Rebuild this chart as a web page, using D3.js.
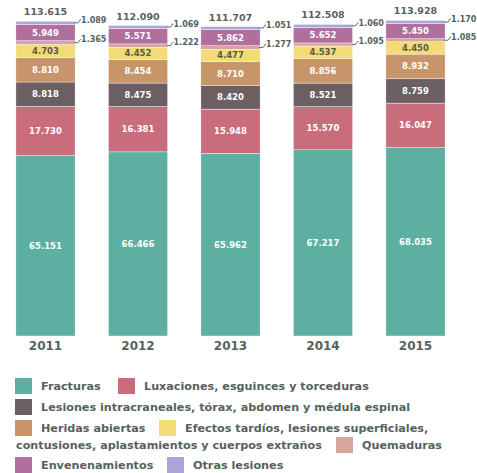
<!DOCTYPE html>
<html>
<head>
<meta charset="utf-8">
<script src="https://cdn.jsdelivr.net/npm/d3@7"></script>
<style>
  html, body { margin: 0; padding: 0; background: #fff; }
  svg { display: block; }
</style>
</head>
<body>
<script>
// categories and series
const years = ["2011", "2012", "2013", "2014", "2015"];
const fracturas = [65151, 66466, 65962, 67217, 68035];
const luxaciones = [17730, 16381, 15948, 15570, 16047];
const intracraneales = [8818, 8475, 8420, 8521, 8759];
const heridas = [8810, 8454, 8710, 8856, 8932];
const efectos = [4703, 4452, 4477, 4537, 4450];
const quemaduras = [1365, 1222, 1277, 1095, 1085];
const envenenamientos = [5949, 5571, 5862, 5652, 5450];
const otras = [1089, 1069, 1051, 1060, 1170];

const seriesNames = [
  "Fracturas",
  "Luxaciones, esguinces y torceduras",
  "Lesiones intracraneales, tórax, abdomen y médula espinal",
  "Heridas abiertas",
  "Efectos tardíos, lesiones superficiales, contusiones, aplastamientos y cuerpos extraños",
  "Quemaduras",
  "Envenenamientos",
  "Otras lesiones",
];
const seriesValues = [fracturas, luxaciones, intracraneales, heridas, efectos, quemaduras, envenenamientos, otras];
const colors = ["#5db0a1", "#c96c7b", "#6c5f64", "#c8956a", "#f3db78", "#d6a59d", "#b06f9d", "#aaa6d8"];

const width = 477, height = 473;
const baseY = 336;
const textColor = "#55625e";
const leaderColor = "#4f7a70";

// table built from the arrays
const table = years.map((yr, i) => {
  const row = { year: yr };
  seriesNames.forEach((name, k) => (row[name] = seriesValues[k][i]));
  return row;
});

const es = d3.formatLocale({ decimal: ",", thousands: ".", grouping: [3], currency: ["", "€"] });
const fmt = es.format(",d");

const svg = d3.select("body").append("svg")
  .attr("width", width)
  .attr("height", height)
  .attr("font-family", "'DejaVu Sans', 'Liberation Sans', sans-serif");

const x = d3.scaleBand()
  .domain(years)
  .range([-0.75, 461.75])
  .paddingInner(0.36)
  .paddingOuter(0.18);

const y = d3.scaleLinear()
  .domain([0, 121300])
  .range([baseY, 0]);

const color = d3.scaleOrdinal().domain(seriesNames).range(colors);

const stacked = d3.stack().keys(seriesNames)(table);

// bars
const layer = svg.append("g")
  .selectAll("g")
  .data(stacked)
  .join("g")
  .attr("fill", (d) => color(d.key));

layer.selectAll("rect")
  .data((d) => d)
  .join("rect")
  .attr("x", (d) => x(d.data.year))
  .attr("width", x.bandwidth())
  .attr("y", (d) => y(d[1]))
  .attr("height", (d) => y(d[0]) - y(d[1]))
  .attr("stroke", "#fff")
  .attr("stroke-width", 0.4);

// value labels inside the larger segments
const small = ["Quemaduras", "Otras lesiones"];
stacked.forEach((s) => {
  if (small.includes(s.key)) return;
  svg.append("g")
    .selectAll("text")
    .data(s)
    .join("text")
    .attr("x", (d) => x(d.data.year) + x.bandwidth() / 2)
    .attr("y", (d) => (y(d[0]) + y(d[1])) / 2)
    .attr("dy", "0.35em")
    .attr("text-anchor", "middle")
    .attr("font-size", 8.5)
    .attr("font-weight", "bold")
    .attr("fill", s.key.startsWith("Efectos") ? "#5a5a4a" : "#fff")
    .text((d) => fmt(d[1] - d[0]));
});

// leader labels for the thin segments
stacked.forEach((s) => {
  if (!small.includes(s.key)) return;
  const g = svg.append("g").selectAll("g").data(s).join("g");
  const x0 = (d) => x(d.data.year) + x.bandwidth();
  const mid = (d) => (y(d[0]) + y(d[1])) / 2;
  g.append("path")
    .attr("fill", "none")
    .attr("stroke", leaderColor)
    .attr("stroke-width", 1)
    .attr("d", (d) => `M${x0(d) - 1},${mid(d)}H${x0(d) + 3}L${x0(d) + 5},${mid(d) - 3}H${x0(d) + 6}`);
  g.append("text")
    .attr("x", (d) => x0(d) + 6)
    .attr("y", (d) => mid(d) - 3)
    .attr("dy", "0.35em")
    .attr("font-size", 8)
    .attr("font-weight", "bold")
    .attr("fill", textColor)
    .text((d) => fmt(d[1] - d[0]));
});

// totals above the bars
const topLayer = stacked[stacked.length - 1];
svg.append("g")
  .selectAll("text")
  .data(topLayer)
  .join("text")
  .attr("x", (d) => x(d.data.year) + x.bandwidth() / 2)
  .attr("y", (d) => y(d[1]) - 6)
  .attr("text-anchor", "middle")
  .attr("font-size", 9.5)
  .attr("font-weight", "bold")
  .attr("fill", textColor)
  .text((d) => fmt(d[1]));

// year labels
svg.append("g")
  .selectAll("text")
  .data(years)
  .join("text")
  .attr("x", (d) => x(d) + x.bandwidth() / 2)
  .attr("y", baseY + 14)
  .attr("text-anchor", "middle")
  .attr("font-size", 12)
  .attr("font-weight", "bold")
  .attr("fill", textColor)
  .text((d) => d);

// legend, laid out by hand in rows
const legendItems = [
  { k: 0, x: 15, y: 386, lines: ["Fracturas"] },
  { k: 1, x: 118, y: 386, lines: ["Luxaciones, esguinces y torceduras"] },
  { k: 2, x: 15, y: 407, lines: ["Lesiones intracraneales, tórax, abdomen y médula espinal"] },
  { k: 3, x: 15, y: 428, lines: ["Heridas abiertas"] },
  { k: 4, x: 159, y: 428, lines: ["Efectos tardíos, lesiones superficiales,", "contusiones, aplastamientos y cuerpos extraños"] },
  { k: 5, x: 336, y: 445, lines: ["Quemaduras"] },
  { k: 6, x: 15, y: 465, lines: ["Envenenamientos"] },
  { k: 7, x: 167, y: 465, lines: ["Otras lesiones"] },
];

const legend = svg.append("g")
  .attr("font-size", 11.2)
  .attr("font-weight", "bold")
  .attr("fill", textColor);

legendItems.forEach((it) => {
  legend.append("rect")
    .attr("x", it.x)
    .attr("y", it.y - 8)
    .attr("width", 17)
    .attr("height", 16)
    .attr("fill", colors[it.k]);
  legend.append("text")
    .attr("x", it.x + 26)
    .attr("y", it.y)
    .attr("dy", "0.35em")
    .text(it.lines[0]);
  if (it.lines[1]) {
    legend.append("text")
      .attr("x", 16)
      .attr("y", it.y + 17)
      .attr("dy", "0.35em")
      .text(it.lines[1]);
  }
});
</script>
</body>
</html>
